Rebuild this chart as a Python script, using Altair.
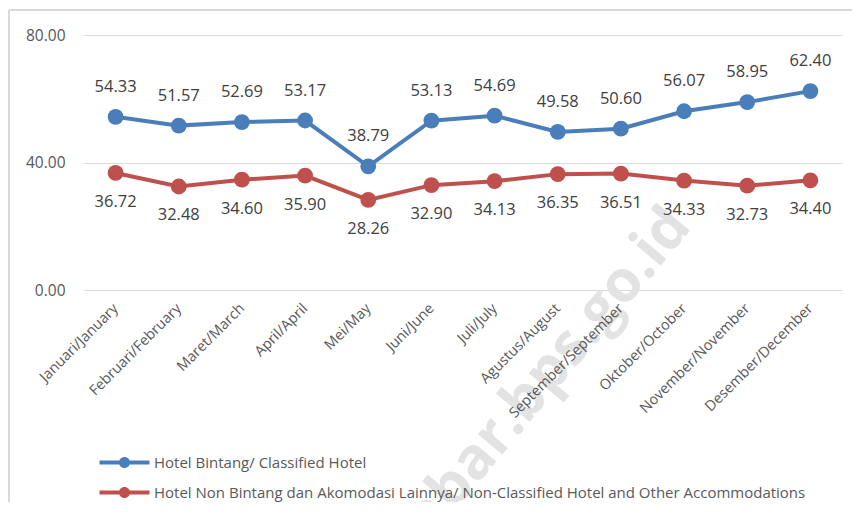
import altair as alt
import pandas as pd

months = ["Januari/January", "Februari/February", "Maret/March", "April/April",
          "Mei/May", "Juni/June", "Juli/July", "Agustus/August",
          "September/September", "Oktober/October", "November/November",
          "Desember/December"]
series_names = ["Hotel Bintang/ Classified Hotel",
                "Hotel Non Bintang dan Akomodasi Lainnya/ Non-Classified Hotel and Other Accommodations"]
classified = [54.33, 51.57, 52.69, 53.17, 38.79, 53.13, 54.69, 49.58, 50.60, 56.07, 58.95, 62.40]
non_classified = [36.72, 32.48, 34.60, 35.90, 28.26, 32.90, 34.13, 36.35, 36.51, 34.33, 32.73, 34.40]
y_ticks = [0, 40, 80]
colors = ["#4a7ebb", "#c0504d"]
watermark = "jabar.bps.go.id"

rows = []
for m, v in zip(months, classified):
    rows.append({"month": m, "series": series_names[0], "value": v})
for m, v in zip(months, non_classified):
    rows.append({"month": m, "series": series_names[1], "value": v})
df = pd.DataFrame(rows)

FONT = "Open Sans"

x_enc = alt.X("month:N", sort=months, title=None,
              scale=alt.Scale(padding=0.5),
              axis=alt.Axis(labelAngle=-45, labelAlign="right", labelBaseline="middle",
                            labelPadding=16, ticks=False, domain=False, grid=False,
                            labelFontSize=14.5, labelColor="#595959", labelFont=FONT,
                            labelOverlap=False, zindex=2))
y_enc = alt.Y("value:Q", title=None,
              scale=alt.Scale(domain=[0, 80]),
              axis=alt.Axis(values=y_ticks, format=".2f", ticks=False, domain=False,
                            gridColor="#d9d9d9", gridWidth=1, labelPadding=19,
                            labelFontSize=15.5, labelColor="#595959", labelFont=FONT))
color_scale = alt.Scale(domain=series_names, range=colors)

base = alt.Chart(df)

frame_left = alt.Chart(pd.DataFrame({"k": [0]})).mark_rule(color="#d9d9d9", strokeWidth=2).encode(
    x=alt.value(-75), y=alt.value(-25), y2=alt.value(480))
frame_top = alt.Chart(pd.DataFrame({"k": [0]})).mark_rule(color="#d9d9d9", strokeWidth=2).encode(
    x=alt.value(-75), x2=alt.value(800), y=alt.value(-25))

wm = alt.Chart(pd.DataFrame({"t": [watermark]})).mark_text(
    font=FONT, fontWeight="bold", fontSize=58, color="#e3e3e3", angle=310,
    align="right", baseline="bottom").encode(
    x=alt.value(618), y=alt.value(200), text="t:N")

line = base.mark_line(strokeWidth=4).encode(
    x=x_enc, y=y_enc,
    color=alt.Color("series:N", scale=color_scale, legend=None),
    detail="series:N")

legend = alt.Legend(title=None, orient="none", legendX=33, legendY=420, direction="vertical",
                    symbolType="M-5,-0.4H5V0.4H-5Z M1.1,0A1.1,1.1 0 1 1 -1.1,0A1.1,1.1 0 1 1 1.1,0Z",
                    symbolSize=100, symbolStrokeWidth=0, labelOffset=22, rowPadding=14,
                    labelFontSize=15, labelColor="#595959", labelFont=FONT, labelLimit=0)

points = base.mark_point(filled=True, size=250, opacity=1).encode(
    x=x_enc, y=y_enc,
    color=alt.Color("series:N", scale=color_scale, legend=legend))

label_top = base.transform_filter(alt.datum.series == series_names[0]).mark_text(
    dy=-30, fontSize=16.5, color="#404040", font=FONT).encode(
    x=x_enc, y=y_enc, text=alt.Text("value:Q", format=".2f"))

label_bottom = base.transform_filter(alt.datum.series == series_names[1]).mark_text(
    dy=29, fontSize=16.5, color="#404040", font=FONT).encode(
    x=x_enc, y=y_enc, text=alt.Text("value:Q", format=".2f"))

chart = alt.layer(wm, frame_left, frame_top, line, points, label_top, label_bottom).resolve_legend(
    color="independent"
).properties(
    width=758, height=255,
    autosize=alt.AutoSizeParams(type="none"),
    padding={"left": 76, "top": 27, "right": 10, "bottom": 212},
    background="white"
).configure_view(stroke=None)

chart.save("out.html", embed_options={"renderer": "svg", "actions": False})
